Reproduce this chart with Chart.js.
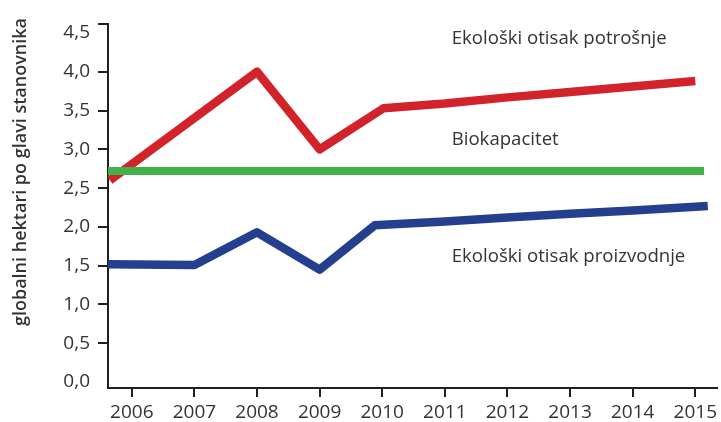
<!DOCTYPE html>
<html lang="hr">
<head>
<meta charset="UTF-8">
<title>Ekološki otisak</title>
<script src="https://cdn.jsdelivr.net/npm/chart.js"></script>
<style>
  html, body { margin: 0; padding: 0; background: #fff; }
  #wrap { width: 721px; height: 422px; }
</style>
</head>
<body>
<div id="wrap"><canvas id="grafik" width="721" height="422"></canvas></div>
<script>
// godine na osi x
const godine = [2006, 2007, 2008, 2009, 2010, 2011, 2012, 2013, 2014, 2015];
const yOznake = [0, 0.5, 1, 1.5, 2, 2.5, 3, 3.5, 4, 4.5];

// Ekološki otisak potrošnje
const potrosnjaX = [2005.65, 2008, 2009, 2010.02, 2011, 2012, 2013, 2014, 2015];
const potrosnjaY = [2.6, 4.0, 3.0, 3.53, 3.59, 3.67, 3.74, 3.81, 3.88];

// Biokapacitet
const biokapacitetX = [2005.62, 2015.14];
const biokapacitetY = [2.72, 2.72];

// Ekološki otisak proizvodnje
const proizvodnjaX = [2005.62, 2007, 2008, 2009, 2009.88, 2011, 2012, 2013, 2014, 2015.2];
const proizvodnjaY = [1.52, 1.51, 1.93, 1.45, 2.02, 2.07, 2.12, 2.17, 2.21, 2.27];

const nazivi = ['Ekološki otisak potrošnje', 'Biokapacitet', 'Ekološki otisak proizvodnje'];
const naslovY = 'globalni hektari po glavi stanovnika';

const X_MIN = 2005.62, X_MAX = 2015.35;
const Y_MIN = -0.077, Y_MAX = 4.616;
const tamna = '#231f20';
const tekst = '#333333';

function tocke(xs, ys) {
    return xs.map((x, i) => ({ x: x, y: ys[i] }));
}

// natpisi uz linije i naslov osi y
const natpisi = {
    id: 'natpisi',
    afterDraw(chart) {
        const c = chart.ctx;
        const sx = chart.scales.x, sy = chart.scales.y;
        const polozaj = [4.43, 3.12, 1.61];
        c.save();
        c.fillStyle = tekst;
        c.font = '18.6px "Open Sans"';
        c.textAlign = 'left';
        c.textBaseline = 'middle';
        nazivi.forEach((t, i) => {
            c.fillText(t, sx.getPixelForValue(2011.11), sy.getPixelForValue(polozaj[i]));
        });
        c.translate(21, 172);
        c.rotate(-Math.PI / 2);
        c.font = '600 18px "Open Sans"';
        c.textAlign = 'center';
        c.fillText(naslovY, 0, 0);
        c.restore();
    }
};

const config = {
    type: 'line',
    data: {
        datasets: [
            {
                label: nazivi[1],
                data: tocke(biokapacitetX, biokapacitetY),
                borderColor: '#42b14b',
                borderWidth: 8,
                order: 0
            },
            {
                label: nazivi[0],
                data: tocke(potrosnjaX, potrosnjaY),
                borderColor: '#d2232b',
                borderWidth: 8.5,
                order: 1
            },
            {
                label: nazivi[2],
                data: tocke(proizvodnjaX, proizvodnjaY),
                borderColor: '#253f8f',
                borderWidth: 8.5,
                order: 2
            }
        ]
    },
    options: {
        responsive: false,
        animation: false,
        layout: { padding: { top: 24, left: 0, right: 0, bottom: 0 } },
        elements: {
            point: { radius: 0 },
            line: { tension: 0, borderJoinStyle: 'round', borderCapStyle: 'butt', fill: false }
        },
        plugins: {
            legend: { display: false },
            tooltip: { enabled: false }
        },
        scales: {
            x: {
                type: 'linear',
                min: X_MIN,
                max: X_MAX,
                afterBuildTicks: s => { s.ticks = godine.map(v => ({ value: v })); },
                afterFit: s => { s.height = 34; },
                ticks: {
                    color: tekst,
                    font: { family: 'Open Sans', size: 19 },
                    padding: 4,
                    maxRotation: 0,
                    callback: v => String(v)
                },
                grid: { drawOnChartArea: false, drawTicks: true, tickLength: 9, lineWidth: 2, color: tamna },
                border: { display: true, color: tamna, width: 2 }
            },
            y: {
                min: Y_MIN,
                max: Y_MAX,
                afterBuildTicks: s => { s.ticks = yOznake.concat([Y_MAX]).map(v => ({ value: v })); },
                afterFit: s => { s.width = 108; },
                ticks: {
                    color: tekst,
                    font: { family: 'Open Sans', size: 19 },
                    padding: 8,
                    callback: v => (v === Y_MAX ? '' : v.toFixed(1).replace('.', ','))
                },
                grid: {
                    drawOnChartArea: false,
                    drawTicks: true,
                    tickLength: 10,
                    lineWidth: 2,
                    color: ctx => (ctx.tick && (ctx.tick.value === 0 || ctx.tick.value === 4.5) ? 'rgba(0,0,0,0)' : tamna)
                },
                border: { display: true, color: tamna, width: 2 }
            }
        }
    },
    plugins: [natpisi]
};

new Chart(document.getElementById('grafik'), config);
</script>
</body>
</html>
